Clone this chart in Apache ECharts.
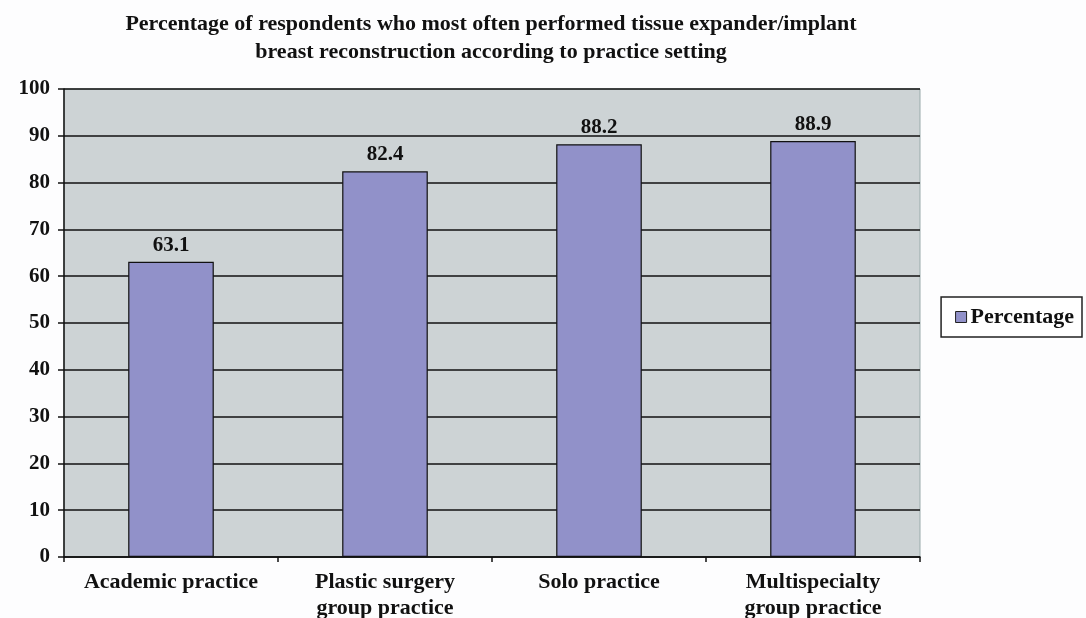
<!DOCTYPE html>
<html><head><meta charset="utf-8">
<script src="https://cdn.jsdelivr.net/npm/echarts@6/dist/echarts.min.js"></script>
<style>html,body{margin:0;padding:0;background:#fff}#c{width:1086px;height:618px}</style>
</head><body><div id="c"></div>
<script>
const categories = ['Academic practice', 'Plastic surgery\ngroup practice', 'Solo practice', 'Multispecialty\ngroup practice'];
const values = [63.1, 82.4, 88.2, 88.9];
const seriesName = 'Percentage';
const titleText = 'Percentage of respondents who most often performed tissue expander/implant\nbreast reconstruction according to practice setting';
const F = '"Liberation Serif", "Times New Roman", serif';
const chart = echarts.init(document.getElementById('c'));
chart.setOption({
  backgroundColor: '#fdfdfe',
  animation: false,
  title: {text: titleText, left: 486, top: 5, textAlign: 'center',
    textStyle: {fontFamily: F, fontWeight: 'bold', fontSize: 22, color: '#111', lineHeight: 28}},
  legend: {right: 4, top: 297, orient: 'vertical', itemWidth: 11, itemHeight: 11, itemGap: 6,
    padding: [9, 8, 9, 14], borderColor: '#222', borderWidth: 1.5, backgroundColor: '#fff',
    icon: 'rect',
    textStyle: {fontFamily: F, fontWeight: 'bold', fontSize: 22, color: '#111', padding: [0, 0, 0, -1]},
    itemStyle: {borderColor: '#222', borderWidth: 1}},
  grid: {left: 64, right: 166, top: 89, bottom: 61, outerBoundsMode: 'none', containLabel: false,
    show: true, backgroundColor: '#cdd3d5', borderColor: '#9aa', borderWidth: 1},
  xAxis: {type: 'category', data: categories,
    axisLine: {lineStyle: {color: '#111', width: 1.5}},
    axisTick: {show: true, length: 5, lineStyle: {color: '#111', width: 1.5}},
    axisLabel: {interval: 0, fontFamily: F, fontWeight: 'bold', fontSize: 22, color: '#111', margin: 12, lineHeight: 26}},
  yAxis: {type: 'value', min: 0, max: 100, interval: 10,
    axisLine: {show: true, lineStyle: {color: '#111', width: 1.5}},
    axisTick: {show: true, length: 6, lineStyle: {color: '#111', width: 1.5}},
    splitLine: {lineStyle: {color: '#111', width: 1.5}},
    axisLabel: {fontFamily: F, fontWeight: 'bold', fontSize: 21, color: '#111', margin: 14}},
  series: [{type: 'bar', name: seriesName, data: values, barWidth: '40%',
    itemStyle: {color: '#9191c9', borderColor: '#111', borderWidth: 1.2},
    label: {show: true, position: 'top', distance: 6, fontFamily: F, fontWeight: 'bold', fontSize: 21, color: '#111',
      formatter: p => p.value.toFixed(1)}}]
});
</script></body></html>
